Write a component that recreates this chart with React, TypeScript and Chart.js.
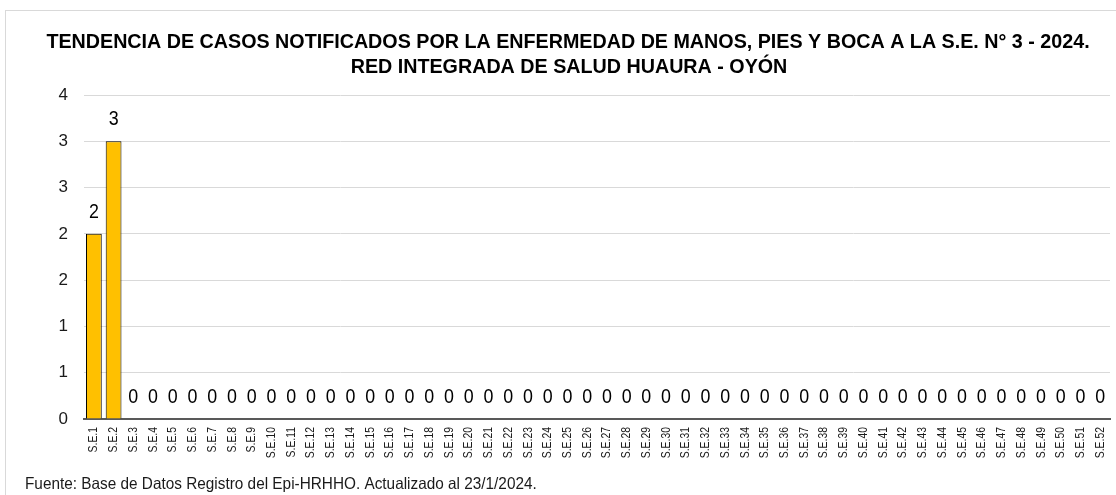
import React, { useEffect, useRef } from "react";
import { Chart, registerables } from "chart.js";

Chart.register(...registerables);

const categories: string[] = Array.from({ length: 52 }, (_, i) => `S.E.${i + 1}`);
const casos: number[] = [
  2, 3, 0, 0, 0, 0, 0, 0, 0, 0, 0, 0, 0, 0, 0, 0, 0, 0, 0, 0, 0, 0, 0, 0, 0, 0,
  0, 0, 0, 0, 0, 0, 0, 0, 0, 0, 0, 0, 0, 0, 0, 0, 0, 0, 0, 0, 0, 0, 0, 0, 0, 0,
];
const titleLines: string[] = [
  "TENDENCIA DE CASOS NOTIFICADOS POR LA ENFERMEDAD DE MANOS, PIES Y BOCA A LA S.E. N° 3 - 2024.",
  "RED INTEGRADA DE SALUD HUAURA - OYÓN",
];
const footerText = "Fuente: Base de Datos Registro del Epi-HRHHO. Actualizado al 23/1/2024.";

const FONT = '"Liberation Sans", Arial, sans-serif';

function squeezedText(ctx: any, text: string, x: number, y: number, sx: number) {
  ctx.save();
  ctx.translate(x, y);
  ctx.scale(sx, 1);
  ctx.fillText(text, 0, 0);
  ctx.restore();
}

const textPlugin = {
  id: "textPlugin",
  afterDraw(chart: any) {
    const ctx = chart.ctx;
    ctx.save();
    ctx.fillStyle = "#000";
    ctx.textAlign = "center";
    ctx.textBaseline = "alphabetic";
    ctx.font = `bold 21px ${FONT}`;
    squeezedText(ctx, titleLines[0], 568, 48, 0.938);
    squeezedText(ctx, titleLines[1], 569, 73, 0.938);

    ctx.textAlign = "left";
    ctx.font = `16.5px ${FONT}`;
    ctx.fillStyle = "#1a1a1a";
    squeezedText(ctx, footerText, 25, 489, 0.93);

    // data labels
    const meta = chart.getDatasetMeta(0);
    ctx.textAlign = "center";
    ctx.font = `21px ${FONT}`;
    ctx.fillStyle = "#000";
    meta.data.forEach((bar: any, i: number) => {
      squeezedText(ctx, String(casos[i]), bar.x, bar.y - 16, 0.85);
    });

    // x tick labels (rotated, narrow)
    const xs = chart.scales.x;
    ctx.font = `13px ${FONT}`;
    ctx.fillStyle = "#1a1a1a";
    ctx.textAlign = "right";
    ctx.textBaseline = "middle";
    categories.forEach((c, i) => {
      const x = xs.getPixelForTick(i);
      ctx.save();
      ctx.translate(x, xs.top + 8);
      ctx.rotate(-Math.PI / 2);
      ctx.scale(0.8, 1);
      ctx.fillText(c, 0, 0);
      ctx.restore();
    });
    ctx.restore();
  },
};

export default function App() {
  const ref = useRef<HTMLCanvasElement>(null);
  useEffect(() => {
    document.body.style.margin = "0";
    const chart = new Chart(ref.current!, {
      type: "bar",
      data: {
        labels: categories,
        datasets: [
          {
            data: casos,
            backgroundColor: "#FFC000",
            borderColor: "#000",
            borderWidth: 1,
            categoryPercentage: 1,
            barPercentage: 0.8,
          },
        ],
      },
      options: {
        responsive: false,
        animation: false,
        layout: { padding: { top: 95, right: 6, left: 0, bottom: 0 } },
        plugins: { legend: { display: false }, tooltip: { enabled: false }, title: { display: false } },
        scales: {
          x: {
            grid: { display: false },
            border: { color: "#595959", width: 2 },
            ticks: { display: false, autoSkip: false },
            afterFit(scale: any) {
              scale.height = 76;
            },
          },
          y: {
            min: 0,
            max: 3.5,
            grid: { color: "#D9D9D9", drawTicks: false },
            border: { display: false },
            ticks: {
              stepSize: 0.5,
              padding: 16,
              color: "#1a1a1a",
              font: { family: FONT, size: 17 },
              callback: (v: any) => String(Math.round(Number(v))),
            },
            afterFit(scale: any) {
              scale.width = 84;
            },
          },
        },
      },
      plugins: [textPlugin],
    });
    return () => chart.destroy();
  }, []);
  return (
    <div style={{ position: "relative", width: 1116, height: 495, background: "#fff" }}>
      <div
        style={{
          position: "absolute",
          left: 5,
          top: 10,
          width: 1120,
          height: 500,
          border: "1px solid #D9D9D9",
          boxSizing: "border-box",
        }}
      />
      <canvas ref={ref} width={1116} height={495} style={{ position: "absolute", left: 0, top: 0 }} />
    </div>
  );
}
